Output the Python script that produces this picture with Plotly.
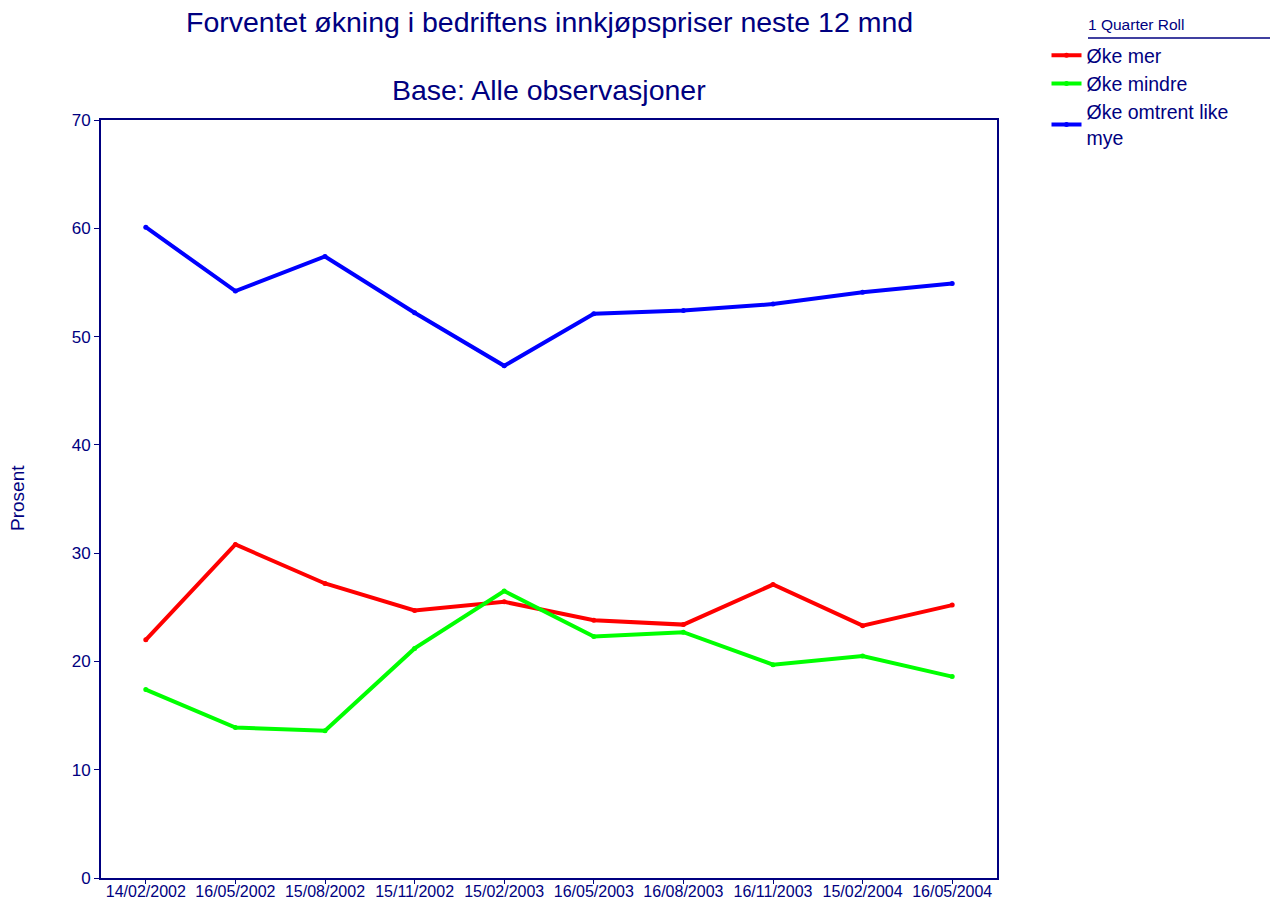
import plotly.graph_objects as go

dates = ["14/02/2002", "16/05/2002", "15/08/2002", "15/11/2002", "15/02/2003",
         "16/05/2003", "16/08/2003", "16/11/2003", "15/02/2004", "16/05/2004"]
oke_mer = [22.0, 30.8, 27.2, 24.7, 25.5, 23.8, 23.4, 27.1, 23.3, 25.2]
oke_mindre = [17.4, 13.9, 13.6, 21.2, 26.5, 22.3, 22.7, 19.7, 20.5, 18.6]
oke_likt = [60.1, 54.2, 57.4, 52.2, 47.3, 52.1, 52.4, 53.0, 54.1, 54.9]

series_names = ["Øke mer", "Øke mindre", "Øke omtrent like<br>mye"]
series_vals = [oke_mer, oke_mindre, oke_likt]
colors = ["#FF0000", "#00FF00", "#0000FF"]
navy = "#000080"
font = "Liberation Sans, Arial, sans-serif"

L, R, T, B = 101, 997, 120, 878
W, H = 1270, 899
pw, ph = R - L, B - T


def px_x(x):
    return (x - L) / pw


def px_y(y):
    return (B - y) / ph


fig = go.Figure()
for i, (n, v, c) in enumerate(zip(series_names, series_vals, colors)):
    fig.add_trace(go.Scatter(
        x=dates, y=v, name=n, mode="lines+markers",
        line=dict(color=c, width=4),
        marker=dict(color=c, size=5),
        legendgroup=str(i),
    ))

fig.update_layout(
    width=W, height=H,
    paper_bgcolor="white", plot_bgcolor="white",
    margin=dict(l=L, r=W - R, t=T, b=H - B, autoexpand=False),
    font=dict(family=font, color=navy),
    showlegend=True,
    legend=dict(xref="container", yref="container",
                x=1046.5 / W, y=1 - 36 / H, xanchor="left", yanchor="top",
                font=dict(size=19.5, color=navy, family=font),
                traceorder="grouped", tracegroupgap=0,
                bgcolor="rgba(0,0,0,0)"),
    xaxis=dict(type="category", range=[-0.5, 9.5], showline=True, linecolor=navy,
               linewidth=2, mirror=True, ticks="outside", ticklen=4, tickcolor=navy,
               tickfont=dict(size=16, color=navy), showgrid=False, zeroline=False,
               automargin=False, ticklabelstandoff=-6),
    yaxis=dict(range=[0, 70], dtick=10, showline=True, linecolor=navy, linewidth=2,
               mirror=True, ticks="outside", ticklen=5, tickcolor=navy,
               tickfont=dict(size=17, color=navy), showgrid=False, zeroline=False,
               automargin=False),
    annotations=[
        dict(text="Forventet økning i bedriftens innkjøpspriser neste 12 mnd",
             xref="paper", yref="paper", x=0.5, y=px_y(22),
             xanchor="center", yanchor="middle", showarrow=False,
             font=dict(size=28.5, color=navy, family=font)),
        dict(text="Base: Alle observasjoner",
             xref="paper", yref="paper", x=0.5, y=px_y(90),
             xanchor="center", yanchor="middle", showarrow=False,
             font=dict(size=28.5, color=navy, family=font)),
        dict(text="1 Quarter Roll", xref="paper", yref="paper",
             x=px_x(1086), y=px_y(25),
             xanchor="left", yanchor="middle", showarrow=False,
             font=dict(size=15.5, color=navy, family=font)),
        dict(text="Prosent", xref="paper", yref="paper",
             x=px_x(17), y=px_y(498), textangle=-90,
             xanchor="center", yanchor="middle", showarrow=False,
             font=dict(size=19, color=navy, family=font)),
    ],
    shapes=[
        dict(type="line", xref="paper", yref="paper",
             x0=px_x(1088), x1=px_x(1270),
             y0=px_y(38), y1=px_y(38),
             line=dict(color=navy, width=1.5)),
    ],
)

fig.write_html("out.html",
               config={"displayModeBar": False},
               post_script="document.body.style.margin='0px';"
                           "document.body.style.padding='0px';"
                           "document.documentElement.style.overflow='hidden';")
